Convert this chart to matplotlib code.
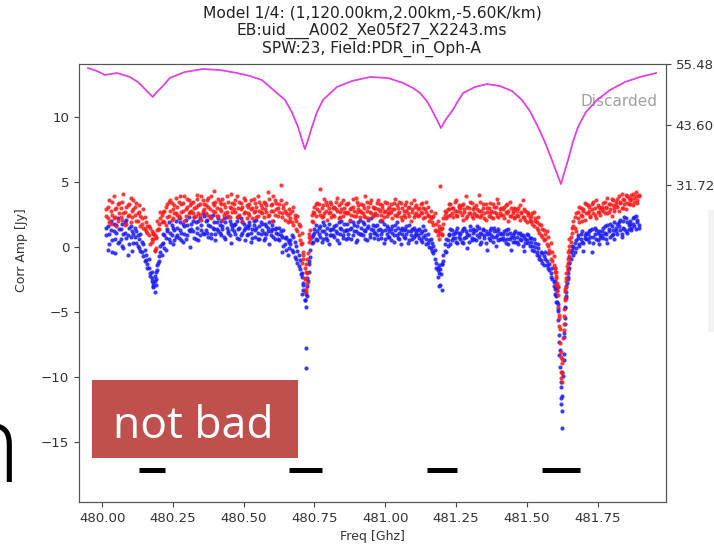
import matplotlib
matplotlib.use('Agg')
import matplotlib.pyplot as plt
from matplotlib.patches import Rectangle

# ---------------- data ----------------
title_lines = ["Model 1/4: (1,120.00km,2.00km,-5.60K/km)",
               "EB:uid___A002_Xe05f27_X2243.ms",
               "SPW:23, Field:PDR_in_Oph-A"]

freq = [
    480.015, 480.020, 480.025, 480.030, 480.035, 480.040, 480.045, 480.050, 480.055, 480.060,
    480.065, 480.070, 480.075, 480.080, 480.085, 480.090, 480.095, 480.100, 480.105, 480.110,
    480.115, 480.120, 480.125, 480.130, 480.135, 480.140, 480.145, 480.150, 480.155, 480.160,
    480.165, 480.170, 480.175, 480.180, 480.185, 480.190, 480.195, 480.200, 480.205, 480.210,
    480.215, 480.220, 480.225, 480.230, 480.235, 480.240, 480.245, 480.250, 480.255, 480.260,
    480.265, 480.270, 480.275, 480.280, 480.285, 480.290, 480.295, 480.300, 480.305, 480.310,
    480.315, 480.320, 480.325, 480.330, 480.335, 480.340, 480.345, 480.350, 480.355, 480.360,
    480.365, 480.370, 480.375, 480.380, 480.385, 480.390, 480.395, 480.400, 480.405, 480.410,
    480.415, 480.420, 480.425, 480.430, 480.435, 480.440, 480.445, 480.450, 480.455, 480.460,
    480.465, 480.470, 480.475, 480.480, 480.485, 480.490, 480.495, 480.500, 480.505, 480.510,
    480.515, 480.520, 480.525, 480.530, 480.535, 480.540, 480.545, 480.550, 480.555, 480.560,
    480.565, 480.570, 480.575, 480.580, 480.585, 480.590, 480.595, 480.600, 480.605, 480.610,
    480.615, 480.620, 480.625, 480.630, 480.635, 480.640, 480.645, 480.650, 480.655, 480.660,
    480.665, 480.670, 480.675, 480.680, 480.685, 480.690, 480.695, 480.700, 480.705, 480.710,
    480.715, 480.720, 480.725, 480.730, 480.735, 480.740, 480.745, 480.750, 480.755, 480.760,
    480.765, 480.770, 480.775, 480.780, 480.785, 480.790, 480.795, 480.800, 480.805, 480.810,
    480.815, 480.820, 480.825, 480.830, 480.835, 480.840, 480.845, 480.850, 480.855, 480.860,
    480.865, 480.870, 480.875, 480.880, 480.885, 480.890, 480.895, 480.900, 480.905, 480.910,
    480.915, 480.920, 480.925, 480.930, 480.935, 480.940, 480.945, 480.950, 480.955, 480.960,
    480.965, 480.970, 480.975, 480.980, 480.985, 480.990, 480.995, 481.000, 481.005, 481.010,
    481.015, 481.020, 481.025, 481.030, 481.035, 481.040, 481.045, 481.050, 481.055, 481.060,
    481.065, 481.070, 481.075, 481.080, 481.085, 481.090, 481.095, 481.100, 481.105, 481.110,
    481.115, 481.120, 481.125, 481.130, 481.135, 481.140, 481.145, 481.150, 481.155, 481.160,
    481.165, 481.170, 481.175, 481.180, 481.185, 481.190, 481.195, 481.200, 481.205, 481.210,
    481.215, 481.220, 481.225, 481.230, 481.235, 481.240, 481.245, 481.250, 481.255, 481.260,
    481.265, 481.270, 481.275, 481.280, 481.285, 481.290, 481.295, 481.300, 481.305, 481.310,
    481.315, 481.320, 481.325, 481.330, 481.335, 481.340, 481.345, 481.350, 481.355, 481.360,
    481.365, 481.370, 481.375, 481.380, 481.385, 481.390, 481.395, 481.400, 481.405, 481.410,
    481.415, 481.420, 481.425, 481.430, 481.435, 481.440, 481.445, 481.450, 481.455, 481.460,
    481.465, 481.470, 481.475, 481.480, 481.485, 481.490, 481.495, 481.500, 481.505, 481.510,
    481.515, 481.520, 481.525, 481.530, 481.535, 481.540, 481.545, 481.550, 481.555, 481.560,
    481.565, 481.570, 481.575, 481.580, 481.585, 481.590, 481.595, 481.600, 481.605, 481.610,
    481.615, 481.620, 481.625, 481.630, 481.635, 481.640, 481.645, 481.650, 481.655, 481.660,
    481.665, 481.670, 481.675, 481.680, 481.685, 481.690, 481.695, 481.700, 481.705, 481.710,
    481.715, 481.720, 481.725, 481.730, 481.735, 481.740, 481.745, 481.750, 481.755, 481.760,
    481.765, 481.770, 481.775, 481.780, 481.785, 481.790, 481.795, 481.800, 481.805, 481.810,
    481.815, 481.820, 481.825, 481.830, 481.835, 481.840, 481.845, 481.850, 481.855, 481.860,
    481.865, 481.870, 481.875, 481.880, 481.885, 481.890, 481.895,
]

# scan 1
red_amp = [
    2.4, 3.1, 1.9, 2.8, 3.5, 2.2, 2.9, 1.6, 3.3, 2.6,
    3.0, 2.1, 4.1, 2.7, 1.8, 3.2, 2.5, 3.8, 2.3, 2.9,
    2.5, 3.4, 2.0, 2.7, 1.6, 2.2, 2.9, 1.4, 1.9, 1.1,
    0.9, 1.5, 0.4, 1.1, -0.3, 0.7, 1.3, 1.8, 2.2, 2.5,
    2.0, 2.8, 1.7, 3.3, 2.4, 3.6, 2.1, 2.9, 3.2, 2.6,
    3.1, 2.4, 3.9, 2.7, 3.4, 2.0, 2.9, 3.7, 2.6, 3.2,
    2.8, 3.5, 2.3, 3.1, 4.0, 2.6, 3.3, 2.1, 3.6, 2.9,
    3.2, 2.5, 3.8, 2.9, 2.2, 3.4, 4.3, 2.7, 3.0, 2.4,
    3.5, 2.8, 2.1, 3.3, 2.6, 3.9, 2.4, 3.1, 4.1, 2.7,
    2.9, 3.6, 2.3, 3.0, 2.5, 3.4, 2.0, 3.8, 2.7, 3.2,
    2.6, 3.3, 2.9, 2.2, 3.7, 2.8, 3.1, 2.4, 3.5, 2.7,
    3.0, 2.3, 3.4, 2.7, 4.2, 2.5, 3.2, 2.0, 2.8, 3.6,
    2.9, 2.4, 3.3, 4.8, 2.6, 3.0, 2.1, 3.4, 2.5, 2.0,
    2.6, 1.9, 3.1, 2.2, 1.4, 2.4, 0.9, 1.6, 0.3, -0.4,
    -1.6, -3.2, -0.9, 0.4, 1.3, 2.0, 2.7, 3.1, 2.4, 3.4,
    2.8, 4.5, 2.3, 3.2, 2.6, 3.5, 2.1, 3.0, 2.7, 3.3,
    2.5, 3.1, 2.9, 3.8, 2.2, 2.7, 3.4, 2.4, 3.0, 2.6,
    3.3, 2.6, 2.1, 3.0, 3.7, 2.8, 2.4, 3.5, 2.9, 2.3,
    2.7, 3.2, 2.4, 3.9, 2.8, 2.2, 3.4, 2.6, 3.1, 2.5,
    3.0, 2.5, 3.6, 2.8, 2.1, 3.2, 2.7, 3.5, 2.4, 2.9,
    2.6, 3.3, 2.2, 2.9, 3.7, 2.4, 3.0, 2.7, 3.4, 2.1,
    2.8, 2.3, 3.5, 2.6, 3.1, 2.0, 2.9, 3.6, 2.5, 3.2,
    2.4, 3.0, 2.7, 3.4, 2.2, 2.9, 3.5, 2.5, 2.0, 2.8,
    2.3, 1.7, 2.6, 1.2, 2.0, 1.4, 4.7, 1.0, 1.8, 2.5,
    2.2, 2.9, 3.3, 2.5, 3.0, 2.3, 2.8, 3.6, 2.4, 3.1,
    2.7, 3.2, 2.1, 2.9, 3.9, 2.4, 3.0, 2.6, 3.4, 2.2,
    3.1, 2.5, 2.9, 4.0, 2.3, 2.8, 3.3, 2.6, 2.1, 3.0,
    2.4, 3.4, 2.8, 2.2, 3.1, 2.6, 3.7, 2.3, 2.9, 2.5,
    2.9, 2.2, 3.2, 2.6, 2.0, 3.5, 2.4, 2.8, 3.0, 2.3,
    2.5, 3.0, 2.1, 2.7, 3.6, 2.3, 2.8, 1.9, 2.6, 2.2,
    2.4, 1.8, 2.7, 2.0, 1.5, 2.3, 1.1, 1.7, 0.8, 1.3,
    0.6, 1.2, 0.1, -0.5, 0.3, -1.1, -0.7, -1.9, -2.4, -3.1,
    -5.2, -8.1, -9.7, -6.4, -4.1, -2.6, -1.8, -0.7, 0.4, 1.1,
    1.6, 2.3, 1.2, 2.7, 1.9, 3.0, 2.4, 2.8, 2.1, 3.3,
    2.6, 3.1, 2.3, 2.9, 3.5, 2.5, 2.2, 3.2, 2.7, 3.0,
    2.9, 3.4, 2.6, 3.1, 3.8, 2.7, 3.3, 2.4, 3.6, 3.0,
    3.2, 3.7, 2.8, 3.5, 4.1, 3.0, 3.6, 2.9, 3.9, 3.3,
    3.6, 4.0, 3.2, 3.8, 4.2, 3.4, 3.9,
]

blue_amp = [
    0.9, 1.6, 0.2, 1.3, -0.4, 1.8, 0.6, 1.1, 2.2, 0.4,
    1.4, 0.1, 1.0, 1.9, 0.7, -0.6, 1.5, 0.8, 1.2, 0.3,
    0.8, 1.2, 0.1, 0.6, -0.3, 0.4, -0.7, -0.2, -1.0, -1.3,
    -1.6, -2.2, -1.9, -2.8, -3.5, -2.5, -1.8, -1.1, -0.4, 0.2,
    0.3, 0.9, -0.2, 1.4, 0.6, 1.1, 1.7, 0.2, 1.3, 0.8,
    1.5, 0.7, 1.9, 1.1, 0.4, 1.6, 2.1, 0.9, 1.3, 0.0,
    1.8, 1.2, 2.3, 0.6, 1.5, 2.0, 0.9, 1.7, 1.1, 2.4,
    1.3, 2.1, 0.8, 1.6, 1.0, 2.5, 1.4, 0.5, 1.9, 1.2,
    1.7, 0.9, 1.4, 2.2, 0.6, 1.5, 1.1, 2.0, 0.3, 1.6,
    1.2, 1.8, 0.7, 2.3, 1.5, 0.9, 1.9, 1.3, 0.5, 1.6,
    1.0, 1.7, 0.4, 1.4, 2.0, 0.8, 1.5, 1.1, 0.6, 1.9,
    1.3, 0.5, 1.8, 1.0, 1.5, 0.2, 1.2, 1.7, 0.8, 1.4,
    1.1, 0.6, 1.5, 0.9, -0.4, 1.3, 0.2, 0.8, -0.6, 0.4,
    0.5, -0.2, 0.8, -0.8, 0.1, -1.2, -0.6, -1.7, -2.3, -2.8,
    -3.4, -4.6, -3.0, -1.9, -0.8, 0.3, 0.9, 1.4, 0.6, 1.2,
    1.0, 1.6, 0.4, 1.9, 1.2, 0.7, 1.5, 0.2, 1.3, 0.9,
    1.4, 0.8, 1.7, 1.1, 0.3, 1.5, 2.0, 0.9, 1.2, 0.6,
    1.8, 1.0, 1.4, 0.6, 1.9, 1.2, 0.4, 1.6, 1.1, 2.1,
    1.5, 0.9, 1.8, 1.2, 0.5, 1.6, 1.0, 2.2, 1.3, 0.7,
    1.1, 1.7, 0.6, 1.4, 1.0, 2.0, 0.3, 1.3, 1.6, 0.8,
    1.2, 0.5, 1.6, 0.9, 1.3, 1.9, 0.7, 1.1, 0.2, 1.5,
    0.8, 1.4, 1.0, 0.3, 1.7, 1.2, 0.6, 1.5, 0.9, 1.1,
    1.3, 0.7, 1.1, 0.4, 1.6, 0.9, 0.2, 1.0, 0.5, -0.1,
    0.3, -0.5, -0.2, -1.2, -1.8, -1.4, -2.9, -3.3, -1.1, -0.3,
    -0.4, 0.5, 1.0, 0.2, 1.3, 0.7, 1.1, 0.4, 1.5, 0.8,
    1.0, 0.4, 1.4, 0.7, 1.2, -0.1, 0.9, 1.6, 0.5, 1.1,
    0.6, 1.3, 0.9, 1.5, 0.2, 1.0, 1.4, 0.7, 1.2, -0.2,
    1.1, 0.5, 1.5, 0.8, 1.2, 0.1, 0.9, 1.4, 0.6, 1.0,
    0.7, 1.2, 0.3, 1.0, 1.4, 0.6, -0.2, 0.9, 1.1, 0.4,
    0.8, 0.2, 1.1, 0.5, 0.9, -0.3, 0.6, 1.0, 0.3, 0.7,
    0.4, -0.2, 0.6, 0.0, -0.6, 0.2, -0.9, -0.4, -1.2, -0.7,
    -0.9, -1.4, -0.5, -1.8, -2.3, -1.6, -2.7, -3.2, -3.8, -4.4,
    -7.3, -10.4, -12.6, -8.7, -5.9, -3.8, -2.5, -1.6, -0.9, -0.2,
    -0.6, 0.3, -0.1, 0.7, 0.2, 1.0, 0.4, -0.3, 0.9, 0.6,
    1.0, 0.4, 1.3, -0.4, 0.8, 1.5, 0.6, 1.1, 0.2, 0.9,
    1.2, 0.7, 1.6, 1.0, 0.3, 1.4, 1.8, 0.9, 1.3, 0.6,
    1.5, 1.0, 1.9, 1.3, 0.8, 2.0, 1.4, 2.2, 1.1, 1.7,
    1.8, 1.3, 2.2, 1.6, 2.4, 1.9, 1.5,
]

# scan 2 (same channels)
red_amp2 = [
    2.9, 2.2, 3.6, 1.8, 2.5, 3.9, 2.3, 3.0, 2.0, 3.4,
    2.3, 3.5, 2.6, 1.7, 3.1, 2.4, 3.3, 1.9, 2.8, 3.6,
    3.1, 2.0, 2.6, 3.2, 2.4, 1.8, 1.5, 2.3, 1.2, 1.6,
    1.6, 0.2, 1.2, 0.6, 0.9, -0.1, 2.0, 1.4, 2.7, 1.9,
    2.7, 1.9, 3.1, 2.3, 3.5, 2.8, 3.4, 2.2, 2.6, 3.8,
    2.5, 3.5, 2.2, 3.3, 2.8, 3.9, 2.4, 3.1, 3.6, 2.7,
    3.4, 2.6, 3.0, 2.4, 3.7, 3.2, 2.5, 3.9, 2.8, 3.3,
    2.6, 3.6, 3.1, 2.3, 3.9, 2.8, 3.2, 3.5, 2.4, 3.7,
    2.9, 3.3, 3.7, 2.5, 3.1, 2.7, 3.5, 2.3, 3.0, 3.4,
    3.3, 2.7, 3.9, 2.4, 3.5, 2.9, 3.1, 2.6, 3.6, 2.2,
    3.1, 2.5, 3.6, 3.0, 2.7, 3.4, 2.3, 3.9, 2.8, 3.2,
    2.6, 3.5, 2.9, 3.2, 2.4, 3.7, 2.8, 3.3, 3.9, 2.5,
    3.4, 3.0, 2.7, 3.6, 2.3, 3.2, 2.8, 2.6, 1.9, 2.9,
    2.2, 2.8, 1.7, 2.5, 2.0, 1.2, 1.8, 0.5, 1.1, -0.9,
    -2.5, -1.3, -2.0, 1.0, 0.6, 2.5, 1.9, 2.6, 3.3, 2.9,
    3.3, 2.5, 3.0, 2.4, 3.7, 2.8, 3.2, 2.6, 3.5, 2.3,
    3.0, 2.4, 3.5, 2.8, 3.2, 2.3, 2.9, 3.6, 2.7, 3.3,
    2.7, 3.4, 2.9, 2.5, 3.1, 2.4, 3.8, 2.7, 3.2, 2.8,
    3.3, 2.6, 3.0, 2.3, 3.5, 3.1, 2.7, 3.6, 2.4, 3.0,
    2.6, 3.4, 2.9, 3.3, 2.5, 3.0, 2.3, 2.8, 3.4, 2.6,
    3.1, 2.7, 2.9, 3.4, 2.5, 3.2, 2.6, 3.5, 2.3, 3.0,
    2.5, 3.2, 2.8, 3.0, 2.4, 3.4, 2.7, 2.3, 3.1, 2.6,
    2.9, 2.5, 3.3, 2.6, 3.0, 2.3, 2.7, 3.1, 2.4, 2.2,
    1.9, 2.4, 1.3, 1.8, 0.9, 1.6, 1.1, 1.5, 2.2, 2.8,
    2.7, 2.4, 2.9, 3.3, 2.6, 3.0, 3.5, 2.5, 2.8, 3.2,
    3.0, 2.5, 3.3, 2.7, 2.2, 3.1, 2.6, 3.5, 2.4, 2.9,
    2.6, 3.2, 2.4, 2.8, 3.5, 2.5, 3.0, 2.2, 3.3, 2.7,
    3.0, 2.6, 2.3, 3.3, 2.7, 3.1, 2.4, 3.4, 2.6, 3.0,
    2.5, 3.1, 2.7, 3.3, 2.8, 2.4, 3.0, 2.6, 2.2, 2.9,
    2.8, 2.4, 3.2, 2.6, 2.3, 2.9, 2.1, 2.7, 2.5, 2.0,
    2.0, 2.6, 1.6, 2.2, 1.9, 1.3, 1.8, 0.9, 1.4, 0.5,
    1.0, 0.2, 0.8, -0.2, -0.9, -0.4, -1.4, -1.6, -2.9, -3.7,
    -6.1, -10.1, -8.6, -5.3, -3.4, -3.1, -1.2, -0.2, 0.8, 1.5,
    2.0, 1.5, 2.6, 2.2, 3.1, 2.5, 2.0, 2.9, 3.4, 2.6,
    3.2, 2.8, 2.4, 3.3, 2.6, 3.0, 3.6, 2.7, 3.1, 2.5,
    3.1, 2.8, 3.5, 3.0, 2.6, 3.3, 2.9, 3.7, 3.2, 2.8,
    3.5, 3.1, 3.9, 3.4, 3.0, 3.7, 3.3, 4.0, 3.4, 3.8,
    3.3, 3.7, 4.1, 3.5, 3.9, 3.6, 4.0,
]

blue_amp2 = [
    1.5, -0.2, 1.0, 2.0, 0.5, 1.2, -0.5, 1.7, 0.3, 1.4,
    0.6, 1.8, -0.1, 1.1, 2.1, 0.9, 0.2, 1.6, -0.3, 1.0,
    1.5, 0.3, 0.9, -0.1, 1.0, -0.4, 0.2, -1.1, -0.6, -1.6,
    -0.9, -2.0, -2.6, -3.1, -2.2, -2.9, -1.4, -0.7, 0.1, -0.6,
    1.0, -0.1, 0.7, 1.2, 1.9, 0.4, 0.9, 1.5, 0.5, 2.0,
    0.9, 2.2, 1.3, 0.5, 1.8, 1.0, 0.6, 1.7, 2.3, 1.2,
    1.4, 2.0, 0.7, 1.9, 1.1, 0.5, 2.2, 1.3, 2.6, 1.0,
    2.0, 1.1, 1.7, 2.4, 0.7, 1.5, 1.9, 1.0, 1.4, 2.2,
    1.1, 2.0, 1.6, 0.8, 1.9, 2.3, 1.2, 0.9, 1.8, 1.4,
    1.7, 1.0, 2.0, 1.4, 0.6, 2.2, 1.1, 1.8, 1.5, 0.9,
    1.5, 1.9, 1.1, 0.7, 1.7, 1.3, 2.1, 0.6, 1.6, 1.0,
    1.8, 1.1, 0.7, 1.6, 1.2, 1.9, 0.9, 1.4, 2.0, 0.6,
    1.5, 1.0, 0.5, 1.2, 0.8, 0.1, 0.7, -0.2, 0.5, -0.1,
    0.2, 0.9, -0.4, 0.4, -0.9, -0.3, -1.5, -1.0, -2.0, -3.3,
    -4.1, -3.6, -2.4, -1.3, -0.2, 0.8, 0.4, 1.1, 1.7, 0.5,
    1.5, 0.8, 1.2, 0.6, 1.7, 1.0, 0.5, 1.8, 0.9, 1.4,
    0.9, 1.6, 1.2, 0.5, 1.9, 1.0, 1.4, 0.7, 1.8, 1.3,
    1.3, 0.7, 2.0, 1.5, 0.9, 1.7, 1.2, 0.5, 1.9, 1.0,
    1.0, 1.9, 1.3, 0.6, 1.5, 2.1, 0.8, 1.4, 1.7, 1.1,
    1.6, 0.9, 1.3, 2.0, 0.7, 1.2, 1.8, 0.6, 1.0, 1.5,
    0.8, 1.4, 1.1, 0.4, 1.7, 0.9, 1.5, 0.6, 1.3, 1.0,
    1.3, 0.7, 1.6, 1.2, 0.5, 0.9, 1.4, 0.8, 1.3, 0.4,
    0.9, 1.4, 0.5, 1.2, 0.8, 1.3, 0.6, 0.3, 0.0, 0.6,
    -0.3, 0.1, -0.9, -1.6, -2.3, -2.0, -1.7, -1.3, -0.6, 0.2,
    0.6, 0.1, 0.9, 1.4, 0.5, 1.0, 0.7, 1.2, 0.3, 1.1,
    0.6, 1.2, 0.3, 1.5, 0.8, 1.0, 0.4, 1.3, 0.7, 1.4,
    1.2, 0.5, 1.6, 0.8, 1.1, 0.4, 1.3, 0.9, 0.3, 1.0,
    0.7, 1.3, 0.9, 0.4, 1.5, 0.8, 1.2, 0.5, 1.1, 0.6,
    1.0, 0.5, 1.3, 0.6, 0.2, 1.1, 0.8, 0.4, 0.7, 1.2,
    0.4, 1.1, 0.6, 0.9, 0.1, 0.8, 0.3, 0.5, 0.9, 0.1,
    0.7, 0.1, -0.3, 0.3, -0.4, -0.1, -0.7, -1.0, -0.5, -1.4,
    -0.4, -1.1, -1.6, -1.3, -2.0, -2.5, -3.0, -3.6, -4.2, -4.8,
    -8.3, -11.6, -9.6, -6.9, -4.6, -3.0, -2.0, -1.2, -0.4, 0.1,
    0.0, -0.4, 0.5, 0.9, 0.1, 0.6, 1.2, 0.3, 0.7, 1.1,
    0.6, 1.2, 0.8, 1.4, 0.3, 1.0, 1.3, 0.5, 1.2, 0.7,
    0.9, 1.5, 1.1, 0.6, 1.7, 1.2, 0.8, 1.6, 1.0, 1.9,
    1.2, 1.8, 1.6, 2.1, 1.0, 1.5, 2.3, 1.2, 1.9, 1.4,
    2.0, 1.5, 1.8, 2.3, 1.4, 2.1, 1.7,
]

# extra channels inside the absorption dips
dip_freq = [480.176, 480.181, 480.186, 480.191, 480.196,
            480.701, 480.706, 480.711, 480.716, 480.719, 480.721, 480.723, 480.726, 480.731,
            481.186, 481.191, 481.196, 481.201,
            481.600, 481.602, 481.604, 481.606, 481.608, 481.610, 481.612, 481.614, 481.616,
            481.618, 481.620, 481.622, 481.624, 481.626, 481.628, 481.630, 481.632, 481.634,
            481.636, 481.638, 481.640, 481.642, 481.644, 481.646, 481.648, 481.650]
dip_red = [0.6, 1.0, -0.2, 0.8, 1.4,
           0.2, -1.2, -0.6, -2.4, -3.5, -1.9, -2.8, -0.5, 0.8,
           1.2, 0.6, 1.4, 0.9,
           -1.6, -2.2, -1.9, -2.8, -3.4, -3.0, -4.6, -5.5, -6.3,
           -7.4, -8.5, -9.6, -10.4, -8.9, -7.0, -5.9, -4.8, -3.9,
           -3.2, -2.4, -2.0, -1.5, -0.9, -0.4, 0.1, 0.6]
dip_blue = [-2.4, -3.0, -2.6, -1.9, -1.2,
            -2.1, -3.6, -2.9, -4.1, -7.8, -9.3, -3.8, -2.6, -1.1,
            -1.6, -3.0, -2.1, -1.3,
            -2.6, -3.1, -3.7, -3.3, -4.2, -4.9, -5.6, -6.8, -7.9,
            -9.2, -10.8, -12.1, -13.9, -11.5, -9.9, -8.2, -6.6, -5.5,
            -4.7, -3.9, -3.5, -2.8, -2.3, -1.7, -1.2, -0.8]

# atmospheric transmission curve (right axis)
trans_freq = [479.950, 479.981, 480.010, 480.052, 480.098, 480.126, 480.144, 480.161, 480.179,
              480.193, 480.211, 480.239, 480.292, 480.356, 480.416, 480.476, 480.522, 480.564,
              480.593, 480.646, 480.670, 480.692, 480.706, 480.716, 480.727, 480.741, 480.759,
              480.780, 480.829, 480.882, 480.946, 481.010, 481.063, 481.098, 481.123, 481.147,
              481.165, 481.183, 481.197, 481.215, 481.239, 481.257, 481.275, 481.317, 481.359,
              481.405, 481.448, 481.483, 481.511, 481.540, 481.564, 481.589, 481.610, 481.621,
              481.631, 481.646, 481.663, 481.681, 481.709, 481.748, 481.794, 481.847, 481.900,
              481.957]
trans_val = [54.69, 54.11, 53.32, 53.71, 52.93, 51.94, 50.96, 49.98, 49.00,
             49.98, 50.96, 52.73, 53.91, 54.50, 54.30, 53.71, 53.12, 52.34,
             50.96, 48.41, 46.05, 43.11, 40.55, 38.78, 40.55, 43.11, 46.05,
             48.41, 50.96, 52.14, 52.93, 52.73, 51.75, 50.77, 49.78, 48.21,
             46.45, 44.48, 42.91, 44.68, 46.45, 48.21, 49.78, 50.96, 51.55,
             51.16, 50.18, 48.41, 46.25, 43.11, 40.16, 36.63, 33.48, 31.91,
             33.88, 36.63, 40.16, 43.11, 46.05, 48.41, 50.37, 51.94, 52.93,
             53.71]

# flagged ranges (black bars)
bar_start = [480.131, 480.659, 481.147, 481.553]
bar_end = [480.223, 480.775, 481.254, 481.688]
bar_level = -17.15

xticks = [480.00, 480.25, 480.50, 480.75, 481.00, 481.25, 481.50, 481.75]
xtick_labels = ["480.00", "480.25", "480.50", "480.75", "481.00", "481.25", "481.50", "481.75"]
yticks = [-15, -10, -5, 0, 5, 10]
right_ticks = [31.72, 43.60, 55.48]
right_tick_labels = ["31.72", "43.60", "55.48"]

# ---------------- figure ----------------
W, H = 714, 547
fig = plt.figure(figsize=(W / 100, H / 100), dpi=100)
fig.patch.set_facecolor('white')

ax = fig.add_axes([79 / W, (H - 502) / H, 587 / W, 438 / H])
ax.set_xlim(479.918, 481.992)
ax.set_ylim(-19.62, 14.08)

all_f = freq + freq + dip_freq
all_b = blue_amp + blue_amp2 + dip_blue
all_r = red_amp + red_amp2 + dip_red
ax.scatter(all_f, all_b, s=9, c='#1a1aff', linewidths=0, alpha=0.85, zorder=2)
ax.scatter(all_f, all_r, s=9, c='#ff1a1a', linewidths=0, alpha=0.85, zorder=3)

ax.hlines([bar_level] * len(bar_start), bar_start, bar_end, colors='black',
          linewidth=3.6, zorder=4)

tick_col = '#444444'
ax.set_xticks(xticks)
ax.set_xticklabels(xtick_labels)
ax.set_yticks(yticks)
ax.tick_params(axis='both', labelsize=9.6, colors=tick_col, labelcolor='#333333')
for sp in ax.spines.values():
    sp.set_color('#555555')
ax.set_xlabel('Freq [Ghz]', fontsize=9, color='#333333')
ax.set_ylabel('Corr Amp [Jy]', fontsize=9, color='#333333')
ax.yaxis.set_label_coords(-0.087, 0.575)

ax2 = ax.twinx()
ax2.set_ylim(-30.5, 55.48)
ax2.plot(trans_freq, trans_val, color='#dd44dd', linewidth=1.3)
ax2.set_yticks(right_ticks)
ax2.set_yticklabels(right_tick_labels)
ax2.tick_params(axis='y', labelsize=9.6, colors=tick_col, labelcolor='#333333')
for sp in ax2.spines.values():
    sp.set_color('#555555')

ax.text(0.986, 0.9155, 'Discarded', transform=ax.transAxes, ha='right', va='center',
        fontsize=11, color='#a0a0a0')

# title lines
for line, base in zip(title_lines, [17.5, 35.0, 52.5]):
    fig.text(372 / W, 1 - base / H, line, ha='center', va='baseline',
             fontsize=11.2, color='#222222')

# slide overlay: red label box
fig.patches.append(Rectangle((92 / W, 1 - 458 / H), 206 / W, 78 / H,
                             transform=fig.transFigure, facecolor='#c0504d',
                             edgecolor='none', zorder=10))
fig.text(113 / W, 1 - 438 / H, 'not bad', ha='left', va='baseline', fontsize=32,
         color='white', family=['Open Sans', 'DejaVu Sans'], zorder=11)

# slide overlay: partial large letter at left edge
fig.text(20 / W, 1 - 482 / H, 'n', ha='right', va='baseline', fontsize=78,
         color='black', family=['Open Sans', 'DejaVu Sans'], fontweight='light', zorder=11)

# faint slide element at right edge
fig.patches.append(Rectangle((708 / W, 1 - 332 / H), 6 / W, 122 / H,
                             transform=fig.transFigure, facecolor='#f3f3f3',
                             edgecolor='none', zorder=1))

fig.savefig('out.png', dpi=100)
